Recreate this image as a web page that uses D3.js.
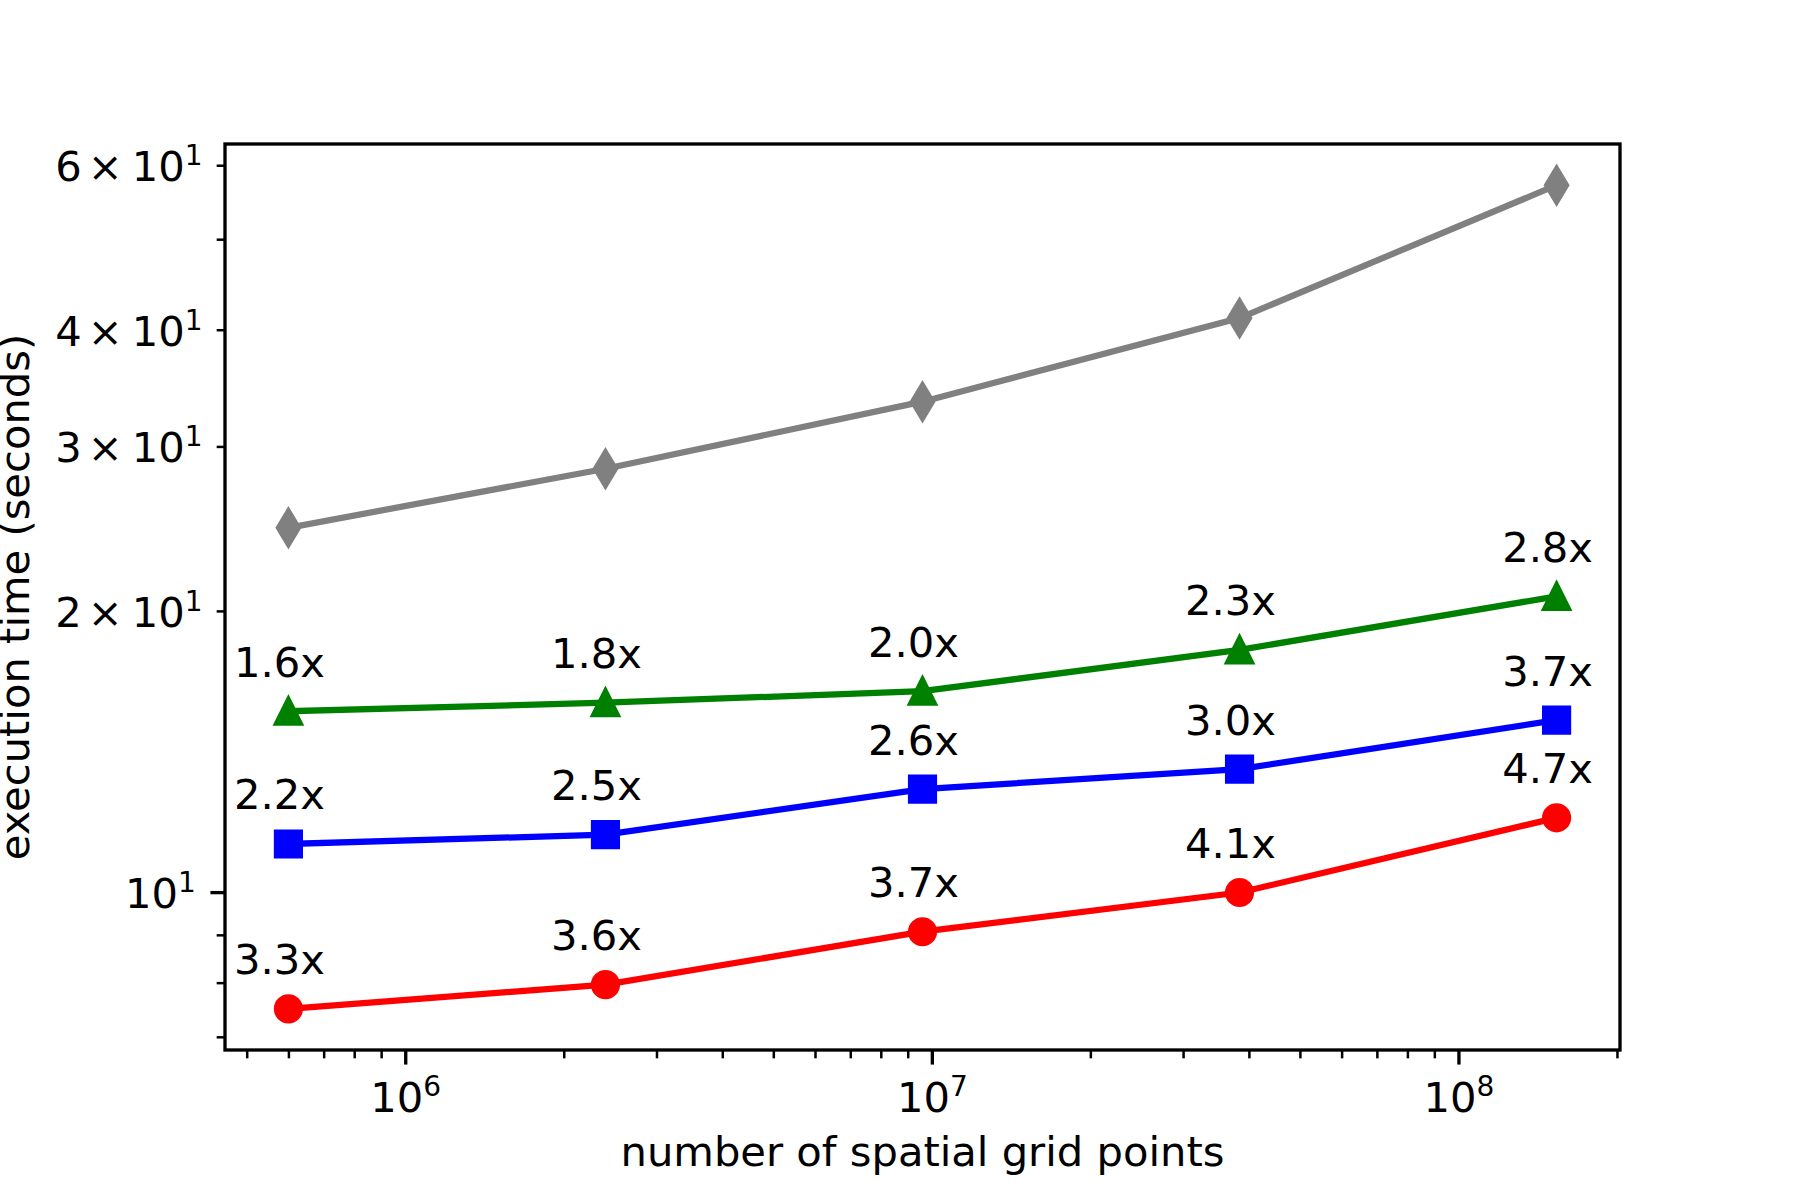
<!DOCTYPE html>
<html>
<head>
<meta charset="utf-8">
<script src="https://cdn.jsdelivr.net/npm/d3@7"></script>
<style>
  body { margin: 0; background: #fff; }
  svg { display: block; font-family: "DejaVu Sans", sans-serif; }
</style>
</head>
<body>
<div id="chart"></div>
<script>
// values
const gridPoints = [6.0e5, 2.4e6, 9.6e6, 3.84e7, 1.536e8];
const timeGray  = [24.55, 28.39, 33.50, 41.17, 57.12];
const timeGreen = [15.62, 15.95, 16.41, 18.17, 20.73];
const timeBlue  = [11.26, 11.52, 12.89, 13.54, 15.28];
const timeRed   = [7.50, 7.96, 9.07, 9.99, 12.01];
const speedGreen = ['1.6x', '1.8x', '2.0x', '2.3x', '2.8x'];
const speedBlue  = ['2.2x', '2.5x', '2.6x', '3.0x', '3.7x'];
const speedRed   = ['3.3x', '3.6x', '3.7x', '4.1x', '4.7x'];
const xMajorTicks = [1e6, 1e7, 1e8];
const yMajorTicks = [10];
const yLabeledMinor = [20, 30, 40, 60];

const width = 1800;
const height = 1200;
const margin = { top: 144, right: 180, bottom: 150, left: 225 };
const pt = 300 / 72; // matplotlib points -> px at 300 dpi
const fontSize = 10 * pt;

const usableArea = {
    top: margin.top,
    right: width - margin.right,
    bottom: height - margin.bottom,
    left: margin.left,
};

const series = [
    { values: timeGray,  color: 'gray',    marker: 'thin_diamond', labels: null },
    { values: timeGreen, color: 'green',   marker: 'triangle',     labels: speedGreen },
    { values: timeBlue,  color: '#0000ff', marker: 'square',       labels: speedBlue },
    { values: timeRed,   color: '#ff0000', marker: 'circle',       labels: speedRed },
];

// log-space 5% margins, like matplotlib autoscale
function logDomain(vals) {
    const [lo, hi] = d3.extent(vals).map(Math.log10);
    const pad = (hi - lo) * 0.05;
    return [Math.pow(10, lo - pad), Math.pow(10, hi + pad)];
}

const xScale = d3.scaleLog()
    .domain(logDomain(gridPoints))
    .range([usableArea.left, usableArea.right]);

const yScale = d3.scaleLog()
    .domain(logDomain(series.flatMap((s) => s.values)))
    .range([usableArea.bottom, usableArea.top]);

// marker shapes (matplotlib markersize 6pt)
const ms = 6 * pt;
function markerPath(kind) {
    const h = ms / 2;
    if (kind === 'circle') {
        return `M${h},0A${h},${h} 0 1,1 ${-h},0A${h},${h} 0 1,1 ${h},0Z`;
    }
    if (kind === 'square') {
        return `M${-h},${-h}H${h}V${h}H${-h}Z`;
    }
    if (kind === 'triangle') {
        return `M0,${-h}L${h},${h}L${-h},${h}Z`;
    }
    // thin diamond: rotated unit square scaled 0.6 in x
    const r = ms * Math.SQRT1_2;
    return `M0,${-r}L${0.6 * r},0L0,${r}L${-0.6 * r},0Z`;
}

const svg = d3.select('#chart').append('svg')
    .attr('width', width)
    .attr('height', height)
    .attr('viewBox', `0 0 ${width} ${height}`);

svg.append('rect').attr('width', width).attr('height', height).attr('fill', '#fff');

// lines + markers
const line = d3.line()
    .x((d, i) => xScale(gridPoints[i]))
    .y((d) => yScale(d));

series.forEach((s) => {
    svg.append('path')
        .datum(s.values)
        .attr('d', line)
        .attr('fill', 'none')
        .attr('stroke', s.color)
        .attr('stroke-width', 1.5 * pt)
        .attr('stroke-linecap', 'square');

    svg.append('g')
        .selectAll('path')
        .data(s.values)
        .join('path')
        .attr('transform', (d, i) => `translate(${xScale(gridPoints[i])},${yScale(d)})`)
        .attr('d', markerPath(s.marker))
        .attr('fill', s.color)
        .attr('stroke', s.color)
        .attr('stroke-width', 1 * pt)
        .attr('stroke-linejoin', s.marker === 'circle' ? 'round' : 'miter');
});

// speed-up annotations above the markers
series.filter((s) => s.labels).forEach((s) => {
    svg.append('g')
        .selectAll('text')
        .data(s.values)
        .join('text')
        .attr('x', (d, i) => xScale(gridPoints[i]) - 9)
        .attr('y', (d) => yScale(d) - 34.5)
        .attr('text-anchor', 'middle')
        .attr('font-size', fontSize)
        .attr('fill', '#000')
        .text((d, i) => s.labels[i]);
});

// power-of-ten label with superscript exponent (mathtext look)
function powerLabel(sel, mantissa, exponent) {
    sel.text(null);
    if (mantissa) {
        sel.append('tspan').text(mantissa);
        sel.append('tspan').attr('dx', 6).text('\u00d7');
        sel.append('tspan').attr('dx', 9).text('10');
    } else {
        sel.append('tspan').text('10');
    }
    sel.append('tspan')
        .attr('dy', -16)
        .attr('font-size', 28)
        .text(exponent);
}

const majorLen = 3.5 * pt;
const minorLen = 2 * pt;
const majorPad = 3.5 * pt;
const minorPad = 3.4 * pt;

// x axis
const xMinor = xScale.ticks().filter((d) => !xMajorTicks.includes(d));

const xMinorAxis = svg.append('g')
    .attr('transform', `translate(0,${usableArea.bottom})`)
    .call(d3.axisBottom(xScale).tickValues(xMinor).tickSize(minorLen).tickFormat(''));
xMinorAxis.selectAll('line').attr('stroke-width', 0.6 * pt);

const xMajorAxis = svg.append('g')
    .attr('transform', `translate(0,${usableArea.bottom})`)
    .call(d3.axisBottom(xScale).tickValues(xMajorTicks).tickSize(majorLen).tickPadding(majorPad));
xMajorAxis.selectAll('line').attr('stroke-width', 0.8 * pt);
xMajorAxis.selectAll('text')
    .attr('dy', null)
    .attr('y', 61.7)
    .attr('font-size', fontSize)
    .attr('font-family', 'DejaVu Sans')
    .each(function (d) {
        powerLabel(d3.select(this), null, String(Math.round(Math.log10(d))));
    });

// y axis
const yMinor = yScale.ticks().filter((d) => !yMajorTicks.includes(d));

const yMinorAxis = svg.append('g')
    .attr('transform', `translate(${usableArea.left},0)`)
    .call(d3.axisLeft(yScale).tickValues(yMinor).tickSize(minorLen).tickPadding(minorPad)
        .tickFormat((d) => (yLabeledMinor.includes(d) ? d : '')));
yMinorAxis.selectAll('line').attr('stroke-width', 0.6 * pt);

const yMajorAxis = svg.append('g')
    .attr('transform', `translate(${usableArea.left},0)`)
    .call(d3.axisLeft(yScale).tickValues(yMajorTicks).tickSize(majorLen).tickPadding(majorPad));
yMajorAxis.selectAll('line').attr('stroke-width', 0.8 * pt);

[yMinorAxis, yMajorAxis].forEach((ax) => {
    ax.selectAll('text')
        .attr('dy', null)
        .attr('y', 15.3)
        .attr('font-size', fontSize)
        .attr('font-family', 'DejaVu Sans')
        .each(function (d) {
            const sel = d3.select(this);
            if (yMajorTicks.includes(d)) {
                powerLabel(sel, null, String(Math.round(Math.log10(d))));
            } else if (yLabeledMinor.includes(d)) {
                const exp = Math.floor(Math.log10(d));
                powerLabel(sel, Math.round(d / Math.pow(10, exp)), String(exp));
            }
        });
});

svg.selectAll('.domain').remove();
svg.selectAll('.tick line').attr('stroke', '#000');
svg.selectAll('.tick text').attr('fill', '#000');

// spines
svg.append('rect')
    .attr('x', usableArea.left)
    .attr('y', usableArea.top)
    .attr('width', usableArea.right - usableArea.left)
    .attr('height', usableArea.bottom - usableArea.top)
    .attr('fill', 'none')
    .attr('stroke', '#000')
    .attr('stroke-width', 0.8 * pt);

// axis titles
svg.append('text')
    .attr('x', (usableArea.left + usableArea.right) / 2)
    .attr('y', 1166)
    .attr('text-anchor', 'middle')
    .attr('font-size', fontSize)
    .text('number of spatial grid points');

svg.append('text')
    .attr('transform', `translate(29,${(usableArea.top + usableArea.bottom) / 2}) rotate(-90)`)
    .attr('text-anchor', 'middle')
    .attr('font-size', fontSize)
    .text('execution time (seconds)');
</script>
</body>
</html>
